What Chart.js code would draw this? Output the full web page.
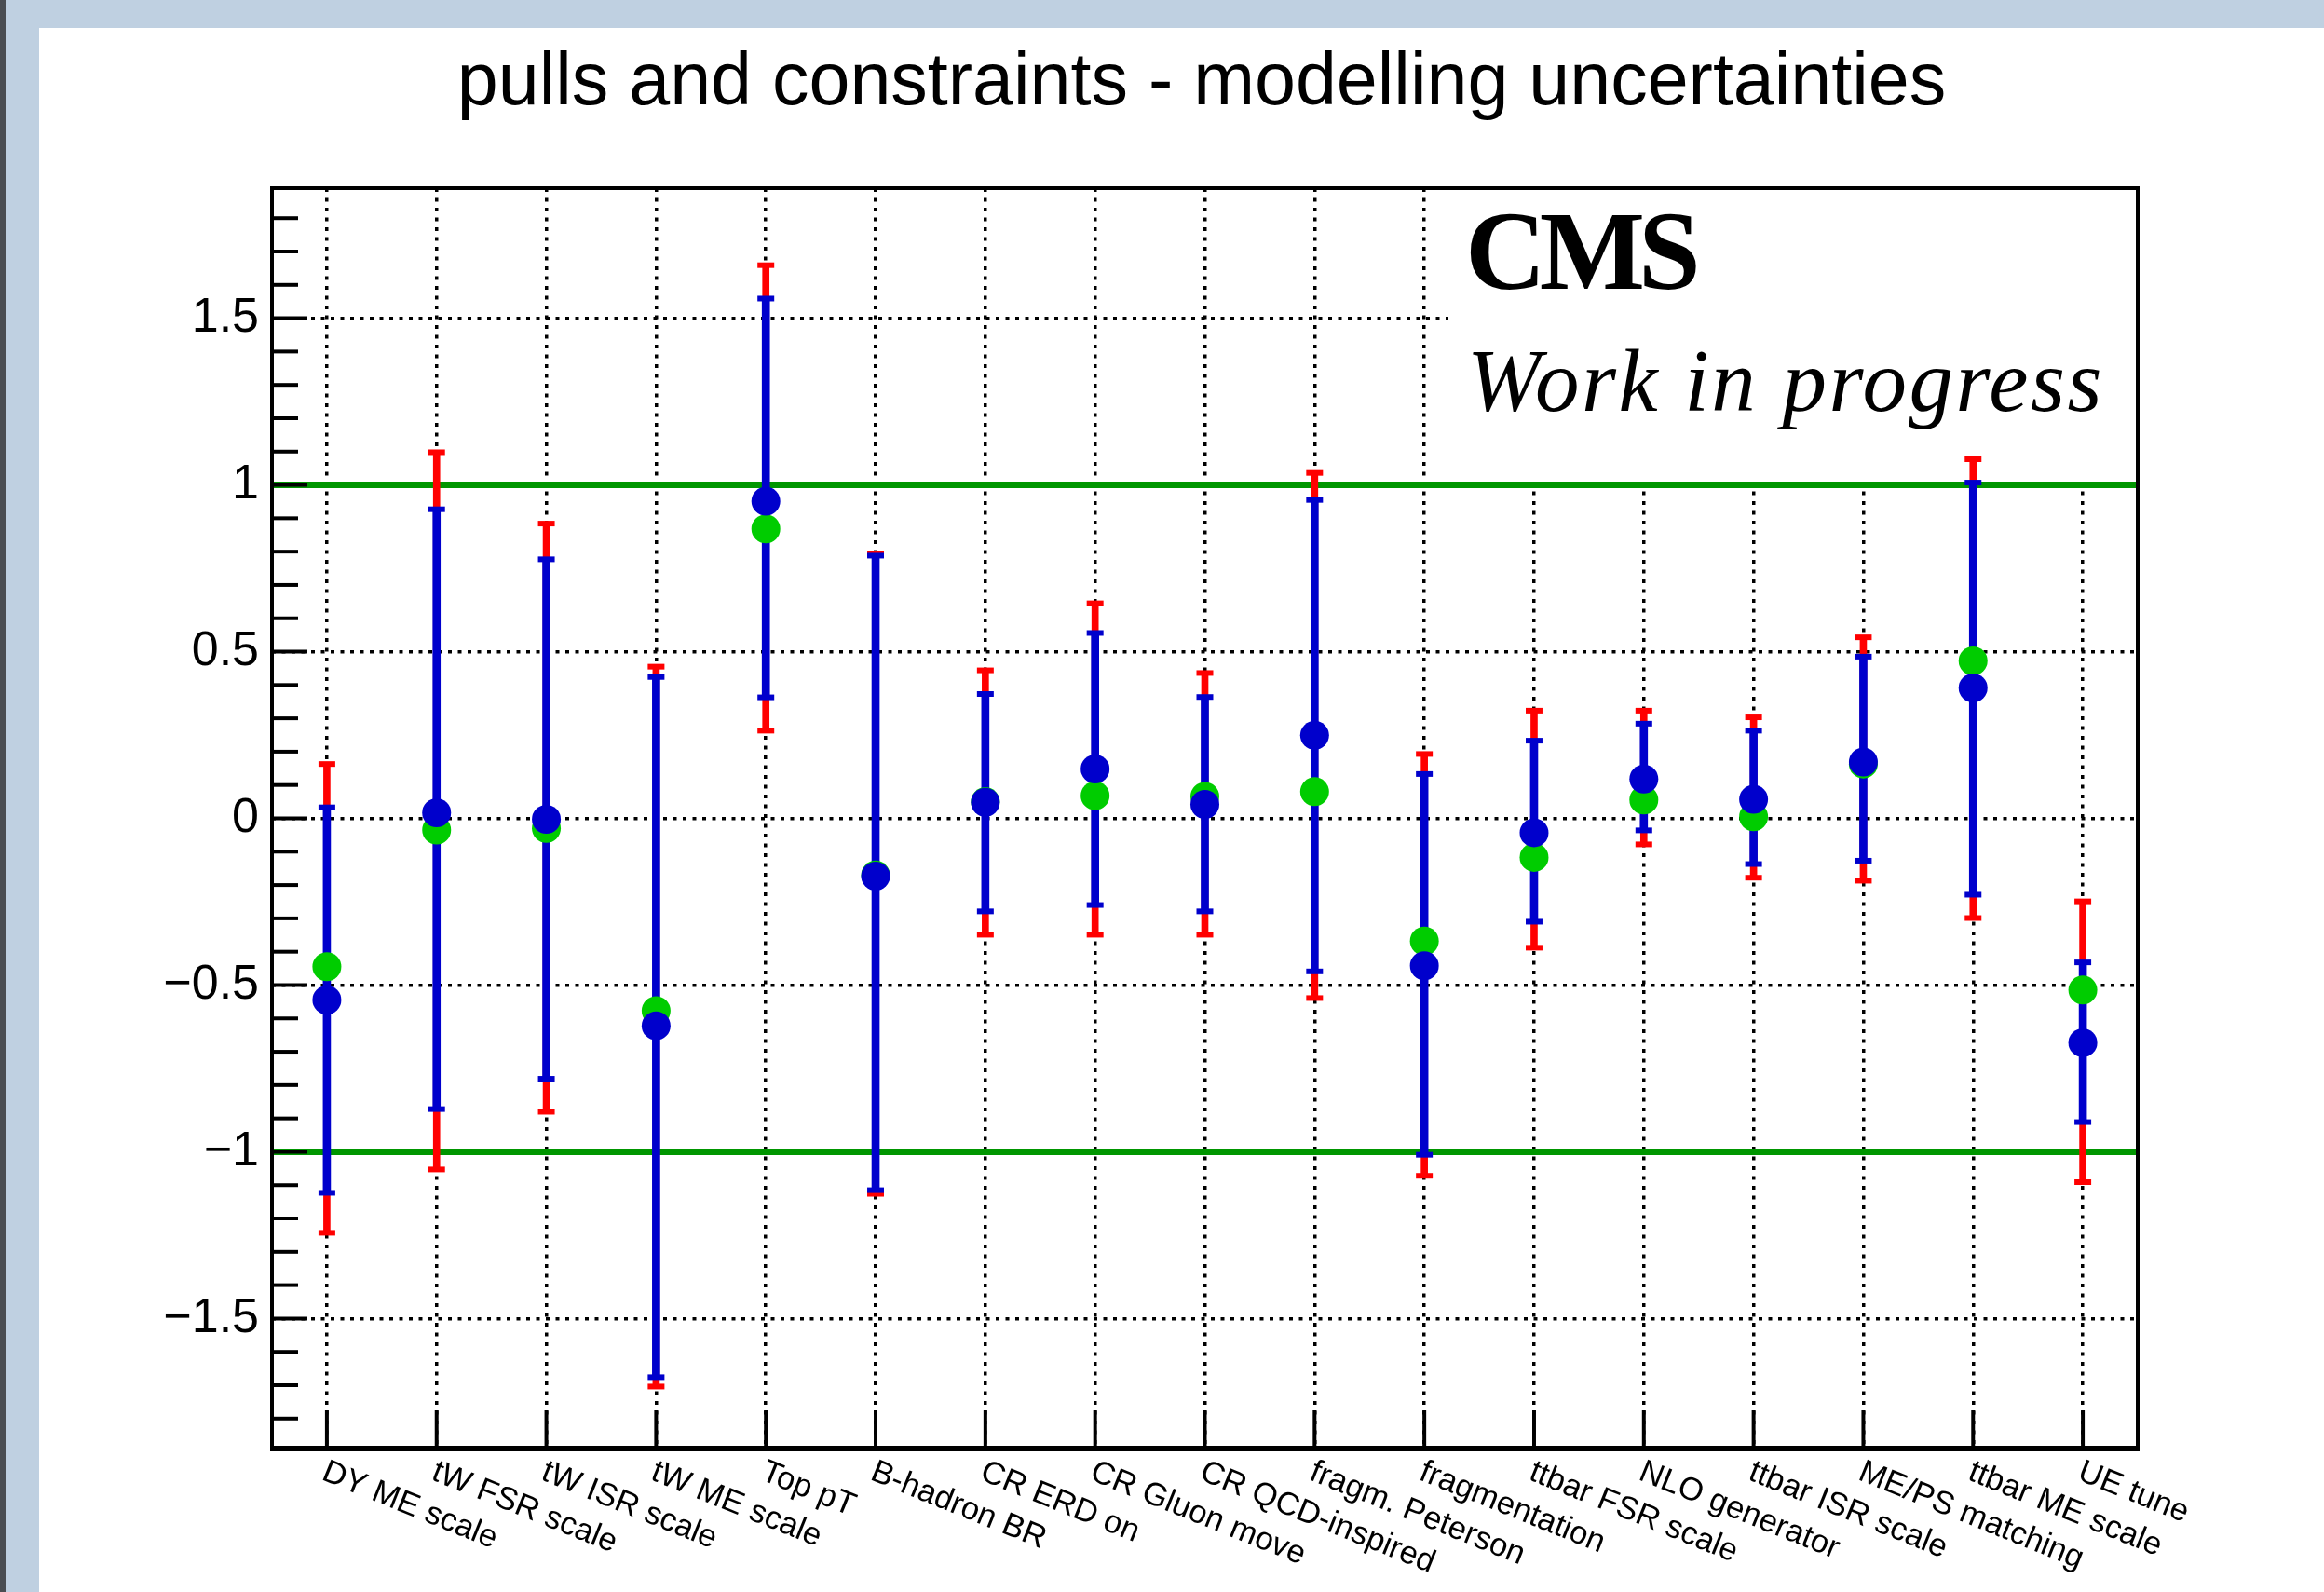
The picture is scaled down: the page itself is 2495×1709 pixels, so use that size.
<!DOCTYPE html>
<html>
<head>
<meta charset="utf-8">
<script src="https://cdn.jsdelivr.net/npm/chart.js@4.4.0/dist/chart.umd.min.js"></script>
<style>
  html, body { margin: 0; padding: 0; }
  body { width: 2495px; height: 1709px; background: #bfd0e1; position: relative; overflow: hidden; }
  #strip { position: absolute; left: 0; top: 0; width: 6px; height: 1709px; background: #4a4d52; }
  #wrap { position: absolute; left: 42px; top: 30px; width: 2453px; height: 1679px; background: #fff; }
</style>
</head>
<body>
<div id="strip"></div>
<div id="wrap"><canvas id="myChart" width="2453" height="1679"></canvas></div>
<script>
const categories = ['DY ME scale', 'tW FSR scale', 'tW ISR scale', 'tW ME scale', 'Top pT', 'B-hadron BR',
  'CR ERD on', 'CR Gluon move', 'CR QCD-inspired', 'fragm. Peterson', 'fragmentation', 'ttbar FSR scale',
  'NLO generator', 'ttbar ISR scale', 'ME/PS matching', 'ttbar ME scale', 'UE tune']

// green markers
const greenPull = [-0.445, -0.035, -0.03, -0.577, 0.868, -0.17, 0.05, 0.068, 0.066, 0.08, -0.368, -0.117, 0.055, 0.005, 0.163, 0.472, -0.515]
// blue markers with their error bars
const bluePull = [-0.545, 0.017, -0.003, -0.622, 0.951, -0.173, 0.048, 0.148, 0.042, 0.249, -0.442, -0.043, 0.118, 0.057, 0.169, 0.391, -0.673]
const blueUp = [0.033, 0.927, 0.777, 0.424, 1.559, 0.788, 0.373, 0.556, 0.364, 0.955, 0.133, 0.233, 0.284, 0.263, 0.485, 1.007, -0.432]
const blueDown = [-1.123, -0.872, -0.781, -1.676, 0.363, -1.115, -0.279, -0.26, -0.279, -0.459, -1.009, -0.31, -0.036, -0.137, -0.127, -0.229, -0.911]
// red error bars
const redUp = [0.163, 1.098, 0.884, 0.455, 1.659, 0.792, 0.444, 0.645, 0.436, 1.036, 0.193, 0.323, 0.323, 0.303, 0.543, 1.077, -0.249]
const redDown = [-1.243, -1.053, -0.88, -1.704, 0.263, -1.126, -0.349, -0.349, -0.349, -0.539, -1.072, -0.388, -0.078, -0.178, -0.187, -0.299, -1.091]

const yTickValues = [-1.5, -1, -0.5, 0, 0.5, 1, 1.5]
const yTickLabels = ['\u22121.5', '\u22121', '\u22120.5', '0', '0.5', '1', '1.5']
const greenLines = [-1, 1]

const myChart = document.querySelector('#myChart')

const toRange = (lo, hi) => lo.map((v, i) => [v, hi[i]])

const caps = (data, color, order) => ({
  type: 'line', data, showLine: false, borderColor: color,
  pointStyle: 'line', pointRadius: 9, pointBorderWidth: 6, pointBorderColor: color, order
})

const dots = (data, color, order) => ({
  type: 'line', data, showLine: false, borderColor: color,
  pointStyle: 'circle', pointRadius: 15.5, pointBackgroundColor: color, pointBorderWidth: 0, order
})

const decor = {
  id: 'decor',
  beforeDatasetsDraw(chart) {
    const { ctx, chartArea: a, scales: { y } } = chart
    ctx.save()
    // white pave behind the CMS label
    ctx.fillStyle = '#fff'
    ctx.fillRect(1513, a.top + 2, a.right - 3 - 1513, 490 - a.top)
    ctx.fillStyle = '#000'
    ctx.textBaseline = 'alphabetic'
    ctx.font = 'bold 120px "Liberation Serif"'
    ctx.letterSpacing = '-7px'
    ctx.fillText('CMS', 1531, 280)
    ctx.font = 'italic 95px "Liberation Serif"'
    ctx.letterSpacing = '2.5px'
    ctx.fillText('Work in progress', 1533, 411)
    ctx.letterSpacing = '0px'

    ctx.strokeStyle = '#009600'
    ctx.lineWidth = 7
    greenLines.forEach(v => {
      const py = y.getPixelForValue(v)
      ctx.beginPath(); ctx.moveTo(a.left, py); ctx.lineTo(a.right, py); ctx.stroke()
    })
    ctx.restore()
  },
  afterDraw(chart) {
    const { ctx, chartArea: a, scales: { x, y } } = chart
    ctx.save()
    ctx.strokeStyle = '#000'
    // frame
    ctx.lineWidth = 4
    ctx.beginPath()
    ctx.moveTo(a.left, a.bottom); ctx.lineTo(a.left, a.top); ctx.lineTo(a.right, a.top); ctx.lineTo(a.right, a.bottom)
    ctx.stroke()
    ctx.lineWidth = 6
    ctx.beginPath(); ctx.moveTo(a.left - 2, a.bottom); ctx.lineTo(a.right + 2, a.bottom); ctx.stroke()

    // y ticks, major every 0.5 and minor every 0.1
    ctx.lineWidth = 4
    for (let i = -18; i <= 18; i++) {
      const py = y.getPixelForValue(i / 10)
      const len = i % 5 === 0 ? 38 : 28
      ctx.beginPath(); ctx.moveTo(a.left, py); ctx.lineTo(a.left + len, py); ctx.stroke()
    }
    // x ticks
    categories.forEach((c, i) => {
      const px = x.getPixelForTick(i)
      ctx.beginPath(); ctx.moveTo(px, a.bottom); ctx.lineTo(px, a.bottom - 41); ctx.stroke()
    })

    // x labels, slanted down to the right
    ctx.fillStyle = '#000'
    ctx.font = '34.5px "Liberation Sans", Arial'
    ctx.textAlign = 'left'
    ctx.textBaseline = 'top'
    categories.forEach((c, i) => {
      const px = x.getPixelForTick(i)
      ctx.save()
      ctx.translate(px + 3, a.bottom + 8)
      ctx.rotate(22 * Math.PI / 180)
      ctx.fillText(c, 0, 0)
      ctx.restore()
    })

    // title
    ctx.font = '79px "Liberation Sans", Arial'
    ctx.textAlign = 'center'
    ctx.textBaseline = 'alphabetic'
    ctx.fillText('pulls and constraints - modelling uncertainties', 1248, 82)
    ctx.restore()
  }
}

new Chart(myChart, {
  type: 'bar',
  data: {
    labels: categories,
    datasets: [
      dots(bluePull, '#0000cc', 0),
      dots(greenPull, '#00cc00', 1),
      caps(blueUp, '#0000cc', 2),
      caps(blueDown, '#0000cc', 2),
      { type: 'bar', data: toRange(blueDown, blueUp), backgroundColor: '#0000cc', barThickness: 8, grouped: false, order: 3 },
      caps(redUp, '#ff0000', 4),
      caps(redDown, '#ff0000', 4),
      { type: 'bar', data: toRange(redDown, redUp), backgroundColor: '#ff0000', barThickness: 7, grouped: false, order: 5 }
    ]
  },
  options: {
    responsive: false,
    animation: false,
    events: [],
    layout: { padding: { top: 172, right: 200, bottom: 0, left: 0 } },
    plugins: { legend: { display: false }, tooltip: { enabled: false }, title: { display: false } },
    scales: {
      x: {
        afterFit: s => { s.height = 154 },
        ticks: { display: false },
        grid: { color: '#000', lineWidth: 3.5, offset: false, drawTicks: false },
        border: { display: false, dash: [4, 6.5] }
      },
      y: {
        min: -1.89,
        max: 1.89,
        afterBuildTicks: s => { s.ticks = yTickValues.map(v => ({ value: v })) },
        afterFit: s => { s.width = 250 },
        ticks: {
          color: '#000',
          padding: 14,
          font: { family: '"Liberation Sans", Arial', size: 52 },
          callback: (v, i) => yTickLabels[i]
        },
        grid: { color: '#000', lineWidth: 3.5, drawTicks: false },
        border: { display: false, dash: [4, 6.5] }
      }
    }
  },
  plugins: [decor]
})
</script>
</body>
</html>
